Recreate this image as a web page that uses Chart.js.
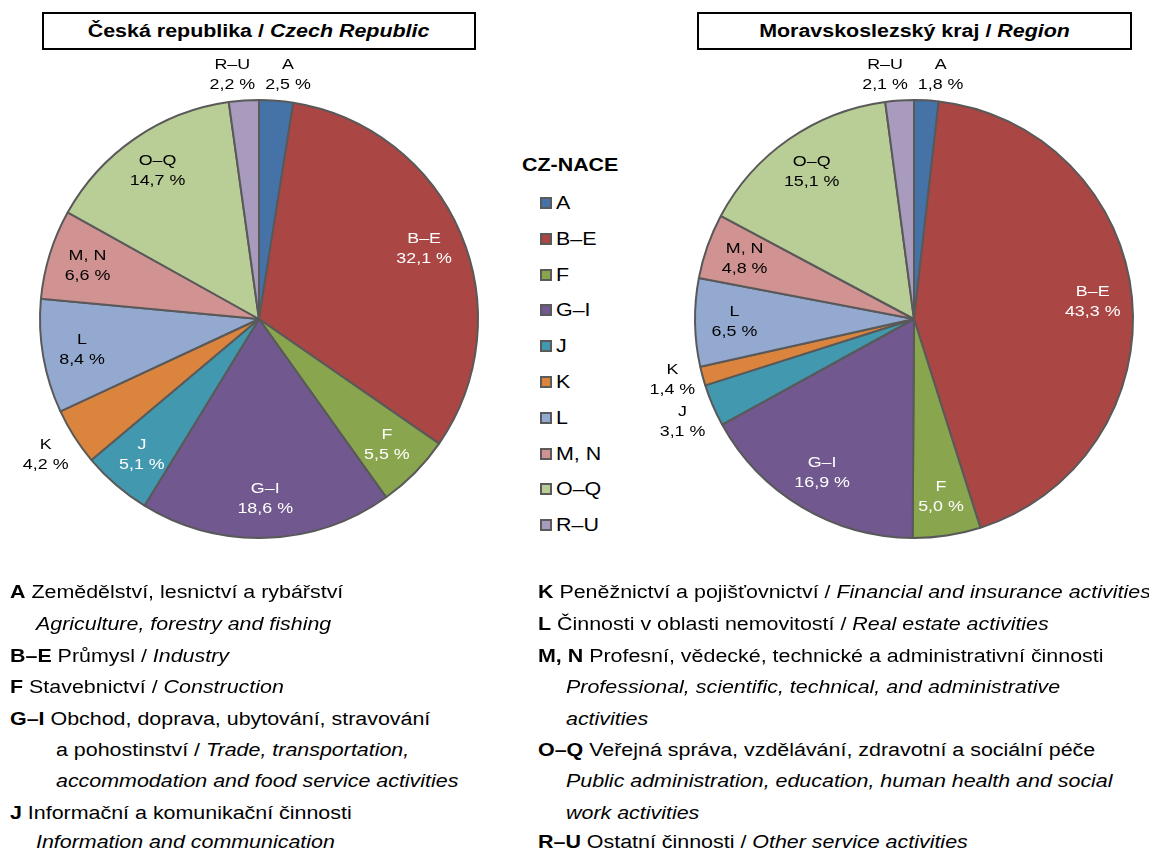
<!DOCTYPE html>
<html lang="cs">
<head>
<meta charset="utf-8">
<script src="https://cdn.jsdelivr.net/npm/chart.js@4/dist/chart.umd.min.js"></script>
<style>
    html, body { margin: 0; padding: 0; background: #fff; }
    #plocha {
        position: relative; width: 1149px; height: 850px; overflow: hidden;
        font-family: 'Liberation Sans', Arial, sans-serif; color: #000;
    }
    .s { position: absolute; white-space: nowrap; transform: scaleX(1.19); transform-origin: left center; }
    .titulek {
        position: absolute; top: 12px; height: 34px; border: 2px solid #000;
        display: flex; align-items: center; justify-content: center;
        font-weight: bold; font-size: 18px;
    }
    .titulek span { display: inline-block; transform: scaleX(1.19); white-space: nowrap; }
    canvas { position: absolute; }
    .radek { font-size: 18px; line-height: 22px; }
    .leg-box { position: absolute; width: 8px; height: 8px; border: 2px solid #5a5a5a; }
</style>
</head>
<body>
<div id="plocha">
    <div class="titulek" style="left:42px; width:430px;"><span>Česká republika / <i>Czech Republic</i></span></div>
    <div class="titulek" style="left:697px; width:431px;"><span>Moravskoslezský kraj / <i>Region</i></span></div>

    <canvas id="grafCR" width="518" height="560" style="left:0; top:39px;"></canvas>
    <canvas id="grafMSK" width="560" height="560" style="left:634px; top:39px;"></canvas>

    <div id="legenda"></div>
    <div id="popis"></div>
</div>

<script>
// kategorie CZ-NACE
const kategorie = ['A', 'B–E', 'F', 'G–I', 'J', 'K', 'L', 'M, N', 'O–Q', 'R–U'];

// podíly v % (Česká republika / Moravskoslezský kraj)
const podilCR  = [2.5, 32.1, 5.5, 18.6, 5.1, 4.2, 8.4, 6.6, 14.7, 2.2];
const podilMSK = [1.8, 43.3, 5.0, 16.9, 3.1, 1.4, 6.5, 4.8, 15.1, 2.1];

const barvy = [
    '#4572A7', '#AA4643', '#89A54E', '#71588F', '#4198AF',
    '#DB843D', '#93A9CF', '#D19392', '#B9CD96', '#A99BBD'
];
// barva popisku uvnitř výseče
const barvyPopisku = ['#fff', '#fff', '#fff', '#fff', '#fff', '#000', '#000', '#000', '#000', '#000'];

const popisky = [
    ['A', 'Zemědělství, lesnictví a rybářství', ''],
    ['', '', 'Agriculture, forestry and fishing'],
    ['B–E', 'Průmysl / ', 'Industry'],
    ['F', 'Stavebnictví / ', 'Construction'],
    ['G–I', 'Obchod, doprava, ubytování, stravování', ''],
    ['', 'a pohostinství / ', 'Trade, transportation,'],
    ['', '', 'accommodation and food service activities'],
    ['J', 'Informační a komunikační činnosti', ''],
    ['', '', 'Information and communication'],
    ['K', 'Peněžnictví a pojišťovnictví / ', 'Financial and insurance activities'],
    ['L', 'Činnosti v oblasti nemovitostí / ', 'Real estate activities'],
    ['M, N', 'Profesní, vědecké, technické a administrativní činnosti', ''],
    ['', '', 'Professional, scientific, technical, and administrative'],
    ['', '', 'activities'],
    ['O–Q', 'Veřejná správa, vzdělávání, zdravotní a sociální péče', ''],
    ['', '', 'Public administration, education, human health and social'],
    ['', '', 'work activities'],
    ['R–U', 'Ostatní činnosti / ', 'Other service activities']
];
// x, y (střed řádku) pro řádky popisu
const radkyX = [10, 36, 10, 10, 10, 56, 56, 10, 36, 538, 538, 538, 566, 566, 538, 566, 566, 538];
const radkyY = [592, 624, 656, 687, 719, 750, 781, 813, 842, 592, 624, 656, 687, 719, 750, 781, 813, 842];

const SX = 1.19; // text je v předloze horizontálně roztažený

// legenda uprostřed
let legHtml = '<div class="s" style="left:522px; top:154px; font-weight:bold; font-size:18px; line-height:22px;">CZ-NACE</div>';
kategorie.forEach((k, i) => {
    const y = 203 + i * 35.8;
    legHtml += `<div class="leg-box" style="left:540px; top:${y - 6}px; background:${barvy[i]};"></div>`;
    legHtml += `<div class="s" style="left:556px; top:${y - 11}px; font-size:18px; line-height:22px;">${k}</div>`;
});
document.getElementById('legenda').innerHTML = legHtml;

// vysvětlivky dole
let popHtml = '';
popisky.forEach((p, i) => {
    let t = '';
    if (p[0]) t += `<b>${p[0]}</b> `;
    t += p[1];
    if (p[2]) t += `<i>${p[2]}</i>`;
    popHtml += `<div class="s radek" style="left:${radkyX[i]}px; top:${radkyY[i] - 11}px;">${t}</div>`;
});
document.getElementById('popis').innerHTML = popHtml;

// popisky výsečí
const popiskyPlugin = {
    id: 'popiskyVyseci',
    afterDatasetsDraw(chart) {
        const ctx = chart.ctx;
        const ds = chart.data.datasets[0];
        const meta = chart.getDatasetMeta(0);
        const lineH = 20;
        ctx.save();
        ctx.font = '15px "Liberation Sans", Arial, sans-serif';
        ctx.textAlign = 'center';
        ctx.textBaseline = 'middle';

        const polozky = meta.data.map((arc, i) => {
            const p = arc.getProps(['x', 'y', 'startAngle', 'endAngle', 'outerRadius'], true);
            const mid = (p.startAngle + p.endAngle) / 2;
            const cos = Math.cos(mid), sin = Math.sin(mid);
            const hodnota = ds.data[i];
            const radky = [chart.data.labels[i], hodnota.toFixed(1).replace('.', ',') + ' %'];
            const w = Math.max(...radky.map(r => ctx.measureText(r).width)) * SX;
            const h = radky.length * lineH;
            const venku = hodnota < 4.5;
            const dist = venku
                ? p.outerRadius + 4 + Math.abs(cos) * w / 2 + Math.abs(sin) * h / 2
                : p.outerRadius * 0.82;
            return {
                radky, w, h, venku, mid,
                x: p.x + cos * dist,
                y: p.y + sin * dist,
                barva: venku ? '#000' : barvyPopisku[i]
            };
        });

        // rozhodit překrývající se vnější popisky
        const venku = polozky.filter(o => o.venku);
        for (let k = 0; k < 20; k++) {
            for (let a = 0; a < venku.length; a++) {
                for (let b = a + 1; b < venku.length; b++) {
                    const A = venku[a], B = venku[b];
                    const dx = B.x - A.x, dy = B.y - A.y;
                    const ox = (A.w + B.w) / 2 + 10 - Math.abs(dx);
                    const oy = (A.h + B.h) / 2 + 2 - Math.abs(dy);
                    if (ox > 0 && oy > 0) {
                        if (ox < oy) {
                            const s = dx !== 0 ? Math.sign(dx) : Math.sign(Math.cos(B.mid) - Math.cos(A.mid)) || 1;
                            A.x -= s * ox / 2; B.x += s * ox / 2;
                        } else {
                            const s = dy !== 0 ? Math.sign(dy) : Math.sign(Math.sin(B.mid) - Math.sin(A.mid)) || 1;
                            A.y -= s * oy / 2; B.y += s * oy / 2;
                        }
                    }
                }
            }
        }

        polozky.forEach(o => {
            ctx.fillStyle = o.barva;
            o.radky.forEach((r, j) => {
                const ly = o.y - o.h / 2 + lineH / 2 + j * lineH;
                ctx.save();
                ctx.translate(o.x, ly);
                ctx.scale(SX, 1);
                ctx.fillText(r, 0, 0);
                ctx.restore();
            });
        });
        ctx.restore();
    }
};

function vytvorGraf(id, data) {
    return new Chart(document.getElementById(id), {
        type: 'pie',
        data: {
            labels: kategorie,
            datasets: [{
                data: data,
                backgroundColor: barvy,
                borderColor: '#595959',
                borderWidth: 2,
                radius: 219
            }]
        },
        options: {
            responsive: false,
            animation: false,
            events: [],
            layout: { padding: 0 },
            plugins: {
                legend: { display: false },
                tooltip: { enabled: false }
            }
        },
        plugins: [popiskyPlugin]
    });
}

const grafCR = vytvorGraf('grafCR', podilCR);
const grafMSK = vytvorGraf('grafMSK', podilMSK);
</script>
</body>
</html>
